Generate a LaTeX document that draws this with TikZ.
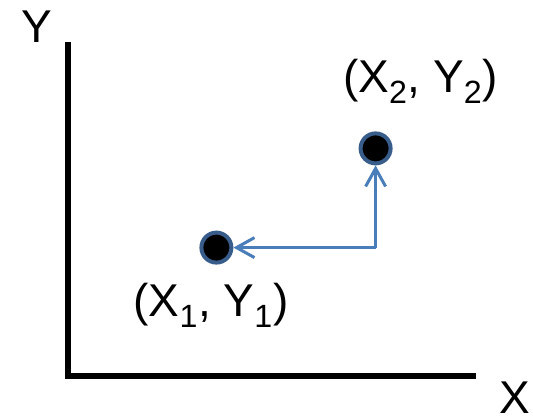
\documentclass[tikz,border=0pt]{standalone}
\usepackage{fontspec}
\setmainfont{Liberation Sans}
\usetikzlibrary{arrows.meta}

\definecolor{linkblue}{RGB}{74,126,187}
\definecolor{rimblue}{RGB}{56,93,138}

\begin{document}
\begin{tikzpicture}[
    axis/.style={line width=0.15cm},
    pnt/.style={circle,fill=black,draw=rimblue,line width=0.1cm,minimum size=0.75cm,inner sep=0pt},
    link/.style={linkblue,line width=0.075cm,-{Straight Barb[length=0.45cm,width=0.5cm]}},
    lbl/.style={anchor=base,font=\fontsize{32.7}{39}\selectfont,inner sep=0pt}
]
    \useasboundingbox (0,0) rectangle (13.325,10.5);

    % Axes
    \coordinate (origin) at (1.7,1.1);
    \draw[axis] (1.7,9.45) -- (origin) -- (11.9,1.1);
    \node[lbl] (ylab) at (0.92,9.43) {Y};
    \node[lbl] (xlab) at (12.875,0.15) {X};

    % Points
    \node[pnt] (p1) at (5.41,4.31) {};
    \node[pnt] (p2) at (9.39,6.79) {};
    \node[lbl] (p1lab) at (5.275,2.575) {(X\textsubscript{1}, Y\textsubscript{1})};
    \node[lbl] (p2lab) at (10.51,8.175) {(X\textsubscript{2}, Y\textsubscript{2})};

    % Path between the points
    \coordinate (corner) at (p2 |- p1);
    \draw[link] (corner) -- (p1);
    \draw[link] (corner) -- (p2);
\end{tikzpicture}
\end{document}
